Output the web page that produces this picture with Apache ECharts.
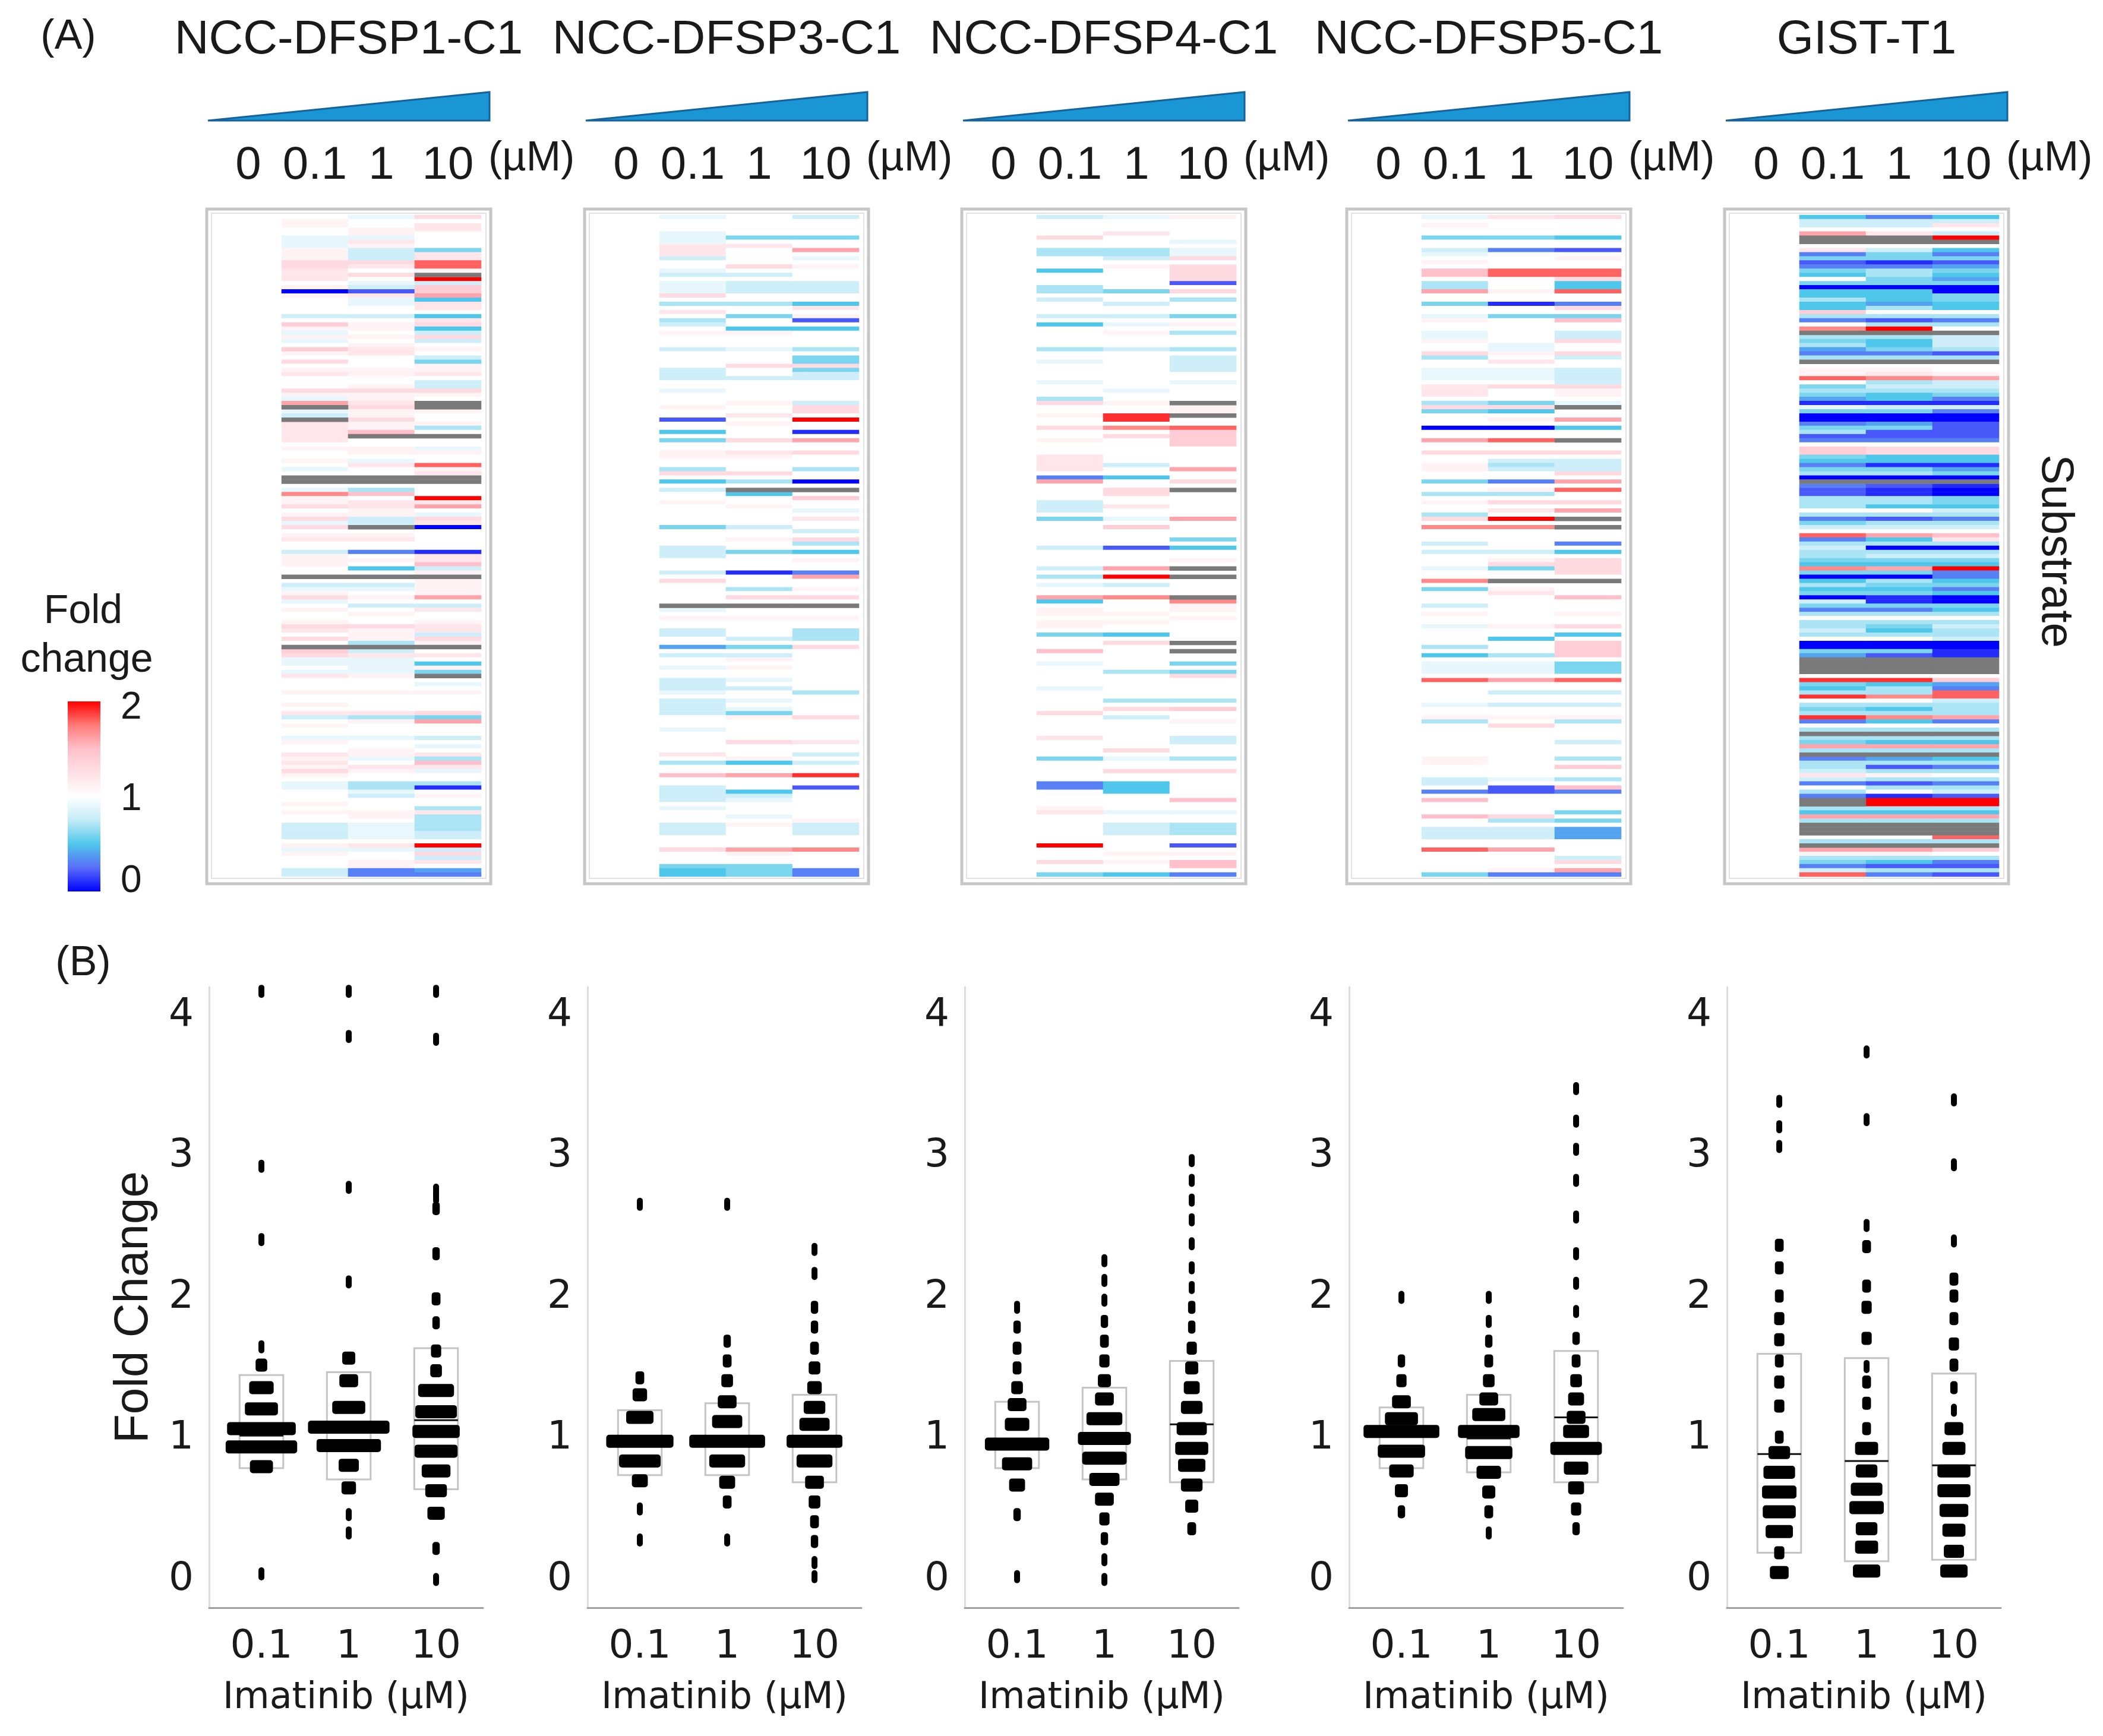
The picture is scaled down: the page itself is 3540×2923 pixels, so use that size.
<!DOCTYPE html>
<html>
<head>
<meta charset="utf-8">
<title>Imatinib fold change</title>
<script src="https://cdn.jsdelivr.net/npm/echarts/dist/echarts.min.js"></script>
<style>
  html, body { margin: 0; padding: 0; background: #fff; }
  #main { width: 3540px; height: 2923px; }
</style>
</head>
<body>
<div id="main"></div>
<script>
var FONT = '"Liberation Sans", Arial, sans-serif';
var FONT_WIDE = '"DejaVu Sans", "Liberation Sans", sans-serif';
var INK = '#1a1a1a';

var panelTitles = ['NCC-DFSP1-C1', 'NCC-DFSP3-C1', 'NCC-DFSP4-C1', 'NCC-DFSP5-C1', 'GIST-T1'];
var heatDoses = ['0', '0.1', '1', '10'];
var boxDoses = ['0.1', '1', '10'];

// fold change per substrate (rows top to bottom), one string per dose 0.1 / 1 / 10 uM
// a = 0.0, b = 0.1 ... k = 1.0 ... u = 2.0 ; '#' = not detected (grey)
var CODE = 'abcdefghijklmnopqrstu';
var N_ROWS = 160;

var heatDFSP1 = [
  'kllkk jjjll lnnmm mklal kkkki koljl jkolk nklmk kknlj q#ji# mmmmm klkkl kjk## kjrll nklnj nklmk killl kk#ki jlnjk lkkln mknk# onjjk jmkkk lkklk miklk kjlkk mlmln lkjjk kklkl kkiii ikljl kkkii',
  'jkkll jmlii inmkn kjicm jjkki kllkl klmmk kkllk klnll mnlln llp#k kllkj mkk## khpkm mllii #klmk kdklk fk#ki jklki klkkn lllh# imjjj jlkkk lkkkk mhlkk kjkkl ljkml kkhhj ikkkl lkjjj jkmjk klldd',
  'nkmmk kkkgm mssl# uiooq fmmkf mnfin iklki gllmk iinlk ##lkk lhk#k kjlkk slm## kkkum qkjnm akkkk kbmmp il#ll llqki mkklm minl# kmkfl g#kjk lkkkk ngqkk kikjk mhpmj kkhbk lkkhm hhhhi ikuin imked'
];
var heatDFSP3 = [
  'jkkkj jjmmm ikkji kjjjn khkmk hiklk kkikk kkiii kkjkk klkkc kkfkg kkllk khnkf kikkl kkkkk gkkkk iiikk kiknk kkkk# jklkk iikke kikkj kkiii jkiii ikkkj kkkkk mkhkk pkkii iikjk kkiii kkknk kkgff',
  'kkkkk gkmkk kknki kiiik khkkg kkflk kkjkk knkki kkkkk lkkmk lkkkn kkmlk kknkh k#fkk lkkkk ikklk kgkkk kbkkk hknk# kklkk kkikg kilkl kkjki kkjkj glkkk kknkk klfkk qkkkf ijkkk jklkk kkkql kkggg',
  'ikkkk gkkqk jklkk kiiik kfmkl ckfkk kkhkg gngii kkkkk innku kkbkq kknkk khkka k#kok kjkmk kiknh kfklk kdqkk lknk# kklkk hhhkn kkkkk kkkkk hkkkk knkkk kkmkk ikikk tkkck kkkkk kliii kkkrk kkkdd'
];
var heatDFSP4 = [
  'ikkkk nkkhh kkkfk kkhhk ikkki kfkkk kkhkk jkkkk jkkkh nkklk knkkl kkkmm mmkdq kkkki iikgk kkkkk ikkkk ikhkj kkqfk llkll kgkkk pkkjk kkkkj kkkkk nkkkk kmkkk kgkkk kkddk kkklm kkkkk kkukk knkkg',
  'jkkkm kkkhh iklkk kkkgk kikki kjklk kkikk kkkkk kkjkk lkktt krknk kkkkk ikkfk knnkk mkkjk okkkk ckkkk qkuki kkrkk klklk kfknk kkkkk hkkkk kkhkn kikkk kkkkn kjkkn kkfff kkkkj kkiii kkkkl klkkf',
  'lkkkk kjkjj nknnn ncknk hkkkg klkhk kkhki iiikk jkkkk #ll#k ksooo okkkk kqkkn k#kkk kkkqk kkkgk fkklk #k#kk kk#rl lklkk kkk#k #kkgk gnkkk kkhko kklkk kiikk khkkn kkkkk kpkkj kkhhh kkckl kppkd'
];
var heatDFSP5 = [
  'jklkk gkkij klkpp khhqk kgkkj lkkjj lkknh kkjjj kmmmk hngkk kakkq kknkk llkkg kkhkl kkhnk rkkki kikkk jkkrk gkkki klkkj kkkkh kfkjj jkskk kkkjk klhkk kkkkk kllkk kiikd kpkkk pkkii ikksk kkkkg',
  'mkkkk gkkdk kkkss kkklk kbkkg kkkkk kjjlk mkjjj knkkk gnfkl kakks kknki hikkd klhkn kmkuk rkkkk kikln gkk#k lmkkk kkkkl kkfkk khkjj jkqkk ikkik klknk kkkkk kkkkk kjkcc kkkkk nhkii ikkqk kkkld',
  'nkkkk fkkck lkkss nffsk kdnkg pkkii nkkni kkiii inllk j#kkq kfkk# kknki iinkq kskkn kqk#k #kkkd kfknn nnk#k kkpkk klkkn kfkoo ookgg gkskk ikkik klhkk kkikk khkok khkpd kkkkg kgkee ekkkk inkqd'
];
var heatGIST = [
  'fiikq ##kmd gcdgf kgaff hffoh dkr#h ghedh #klls kghge bjgaa dghcd koogf dgha# dcchh hkhdg iksdh ihhgf rgafh fgaig dhkhh ihkaa ge### #ktgf htkhg htdkh #hgqh #dhhi midkh d##hf qh### kh#ql hgdis',
  'diikm ##kig gbdhh ggaff fehkh chu#h ffgdh #klmr hihff bigaa egccd knnff bgha# cbbhh fkhch ikqfh ahigf qgahg fgbbg dhkhg fhkaa gc### #ktfh hrkhf hrfkh #hfqh #ehch lhchk buuhf qh### kh#ql hfchd',
  'fimki u#kfd gcegf egaag gffkh dhk#i iihch #kklq iihgd bidaa ccccd knnff bega# baagg fihdh ikpmh ahigf uddfg dfaag fhkhi hhiaa bb### #koed ssihh hqdkh #hfqh #fhdh khdhi cuuhf qh### sh#ok hdchc'
];

// beeswarm bins: [fold change, number of substrates in the bin], per dose 0.1 / 1 / 10 uM
var swarmDFSP1 = [
  [[4.17,1],[2.93,1],[2.41,1],[1.65,1],[1.52,5],[1.36,14],[1.21,20],[1.07,45],[0.94,47],[0.80,13],[0.04,1]],
  [[4.17,1],[3.85,1],[2.78,1],[2.11,1],[1.57,6],[1.41,10],[1.22,20],[1.08,54],[0.95,42],[0.81,11],[0.65,7],[0.46,1],[0.33,1]],
  [[4.17,1],[3.83,1],[2.76,1],[2.71,1],[2.63,2],[2.31,2],[1.99,3],[1.82,2],[1.62,4],[1.48,5],[1.34,22],[1.19,26],[1.05,30],[0.91,27],[0.77,17],[0.63,12],[0.47,9],[0.22,2],[0.00,1]]
];
var swarmDFSP3 = [
  [[2.66,1],[1.43,3],[1.31,7],[1.15,16],[0.98,44],[0.84,26],[0.70,8],[0.50,1],[0.28,1]],
  [[2.66,1],[1.69,2],[1.55,3],[1.41,5],[1.26,10],[1.12,18],[0.98,50],[0.84,22],[0.69,8],[0.55,3],[0.28,1]],
  [[2.34,1],[2.17,1],[1.93,2],[1.79,2],[1.64,3],[1.50,5],[1.36,7],[1.22,12],[1.10,18],[0.98,36],[0.84,22],[0.69,10],[0.55,5],[0.41,3],[0.27,2],[0.12,1],[0.02,1]]
];
var swarmDFSP4 = [
  [[1.93,1],[1.79,2],[1.64,3],[1.50,3],[1.36,5],[1.24,10],[1.10,14],[0.96,42],[0.82,18],[0.67,8],[0.46,2],[0.02,1]],
  [[2.26,1],[2.12,1],[1.98,1],[1.83,2],[1.69,3],[1.55,4],[1.41,6],[1.28,10],[1.14,22],[1.00,34],[0.86,28],[0.71,18],[0.57,10],[0.43,4],[0.29,2],[0.14,1],[0.00,1]],
  [[2.97,1],[2.83,1],[2.69,1],[2.55,1],[2.38,1],[2.21,1],[2.07,1],[1.93,2],[1.79,2],[1.64,4],[1.50,6],[1.36,8],[1.22,12],[1.07,18],[0.93,20],[0.81,16],[0.67,12],[0.52,6],[0.36,3]]
];
var swarmDFSP5 = [
  [[2.00,1],[1.55,2],[1.41,4],[1.26,10],[1.14,20],[1.05,50],[0.91,30],[0.77,14],[0.63,6],[0.48,2]],
  [[2.00,1],[1.83,1],[1.69,2],[1.55,3],[1.41,5],[1.28,10],[1.17,20],[1.05,40],[0.90,30],[0.76,14],[0.62,6],[0.48,3],[0.33,1]],
  [[3.48,1],[3.25,1],[3.05,1],[2.83,1],[2.57,1],[2.31,1],[2.10,1],[1.90,1],[1.71,2],[1.55,3],[1.41,5],[1.28,8],[1.15,10],[1.05,15],[0.93,33],[0.79,14],[0.65,8],[0.50,4],[0.36,2]]
];
var swarmGIST = [
  [[3.39,1],[3.21,1],[3.07,1],[2.37,3],[2.21,3],[2.01,3],[1.85,4],[1.70,4],[1.55,3],[1.40,4],[1.23,4],[1.01,3],[0.90,12],[0.76,19],[0.62,21],[0.48,20],[0.34,16],[0.19,4],[0.05,10]],
  [[3.74,1],[3.26,1],[2.51,1],[2.36,3],[2.08,3],[1.93,4],[1.71,4],[1.51,1],[1.40,3],[1.25,3],[1.07,3],[0.93,13],[0.77,12],[0.64,19],[0.51,21],[0.36,12],[0.23,13],[0.06,16]],
  [[3.40,1],[2.94,1],[2.40,1],[2.13,3],[2.01,3],[1.85,3],[1.67,4],[1.52,3],[1.36,2],[1.20,1],[1.07,10],[0.93,13],[0.77,20],[0.63,20],[0.49,17],[0.35,13],[0.20,11],[0.06,16]]
];

// box: [Q1, median, Q3] per dose
var boxDFSP1 = [[0.79,1.02,1.45],[0.71,1.05,1.47],[0.64,1.13,1.64]];
var boxDFSP3 = [[0.74,0.95,1.20],[0.74,0.97,1.25],[0.69,0.98,1.31]];
var boxDFSP4 = [[0.79,0.97,1.26],[0.71,1.00,1.36],[0.69,1.10,1.55]];
var boxDFSP5 = [[0.79,1.03,1.22],[0.76,1.00,1.31],[0.69,1.15,1.62]];
var boxGIST  = [[0.19,0.89,1.60],[0.13,0.84,1.57],[0.14,0.81,1.46]];

var heatPanels = [heatDFSP1, heatDFSP3, heatDFSP4, heatDFSP5, heatGIST];
var swarmPanels = [swarmDFSP1, swarmDFSP3, swarmDFSP4, swarmDFSP5, swarmGIST];
var boxPanels = [boxDFSP1, boxDFSP3, boxDFSP4, boxDFSP5, boxGIST];

var FOLD_COLORS = ['#0000ff', '#5a6ef8', '#4ec7ea', '#c2ebf7', '#ffffff', '#ffe0e6', '#ffc0cb', '#ff7b78', '#ff0000'];

// layout
var frameLeft = [348, 984, 1619, 2267, 2903];
var FRAME_W = 478, FRAME_TOP = 352, FRAME_H = 1136;
var HEAT_TOP = 362, HEAT_W = 448, HEAT_H = 1114;
var boxLeft = [352, 989, 1624, 2271, 2907];
var BOX_TOP = 1662, BOX_W = 461, BOX_H = 1045;
var X_MIN = -0.599, X_MAX = 2.537;   // dose slots sit 88px and then 147px apart
var DOT_W = 10, DOT_H = 22, DOT_PITCH = 2.4;

function decode(s) {
  return s.replace(/\s+/g, '').split('');
}
function isWhole(v) {
  return Math.abs(v - Math.round(v)) < 1e-6;
}

var rowNames = [];
for (var r = 0; r < N_ROWS; r++) rowNames.push('S' + (r + 1));

var grids = [], xAxes = [], yAxes = [], series = [], heatSeriesIdx = [];

heatPanels.forEach(function (cols, i) {
  grids.push({ left: frameLeft[i] + 14, top: HEAT_TOP, width: HEAT_W, height: HEAT_H, outerBoundsMode: 'none' });
  xAxes.push({
    type: 'category', gridIndex: i, position: 'top', data: heatDoses,
    axisLine: { show: false }, axisTick: { show: false }, splitLine: { show: false },
    axisLabel: { interval: 0, hideOverlap: false, fontSize: 78, margin: 44, color: INK, fontFamily: FONT }
  });
  yAxes.push({ type: 'category', gridIndex: i, data: rowNames, inverse: true, show: false });

  var cells = [], missing = [];
  for (var r = 0; r < N_ROWS; r++) cells.push([0, r, 1]);
  cols.forEach(function (s, c) {
    decode(s).forEach(function (ch, r) {
      if (r >= N_ROWS) return;
      if (ch === '#') missing.push([c + 1, r, 1]);
      else cells.push([c + 1, r, CODE.indexOf(ch) / 10]);
    });
  });
  heatSeriesIdx.push(series.length);
  series.push({
    type: 'heatmap', xAxisIndex: i, yAxisIndex: i, data: cells,
    silent: true, emphasis: { disabled: true }, progressive: 0
  });
  series.push({
    type: 'heatmap', xAxisIndex: i, yAxisIndex: i, data: missing,
    itemStyle: { color: '#7a7a7a' }, silent: true, emphasis: { disabled: true }, progressive: 0
  });
});

swarmPanels.forEach(function (doses, i) {
  var g = 5 + i;
  grids.push({ left: boxLeft[i], top: BOX_TOP, width: BOX_W, height: BOX_H, outerBoundsMode: 'none' });
  xAxes.push({
    type: 'value', gridIndex: g, min: X_MIN, max: X_MAX, splitNumber: 3,
    axisLine: { show: true, onZero: false, lineStyle: { color: '#a0a0a0', width: 3 } },
    axisTick: { show: false }, splitLine: { show: false },
    axisLabel: {
      fontSize: 66, margin: 34, color: INK, fontFamily: FONT_WIDE,
      formatter: function (v) { return isWhole(v) && boxDoses[Math.round(v)] ? boxDoses[Math.round(v)] : ''; }
    },
    name: 'Imatinib (µM)', nameLocation: 'middle', nameGap: 122,
    nameTextStyle: { fontSize: 62, color: INK, fontFamily: FONT_WIDE }
  });
  yAxes.push({
    type: 'value', gridIndex: g, min: -0.2, max: 4.2, splitNumber: 4,
    axisLine: { show: true, onZero: false, lineStyle: { color: '#dcdcdc', width: 3 } },
    axisTick: { show: false }, splitLine: { show: false },
    axisLabel: {
      fontSize: 66, margin: 26, color: INK, fontFamily: FONT_WIDE,
      formatter: function (v) { return isWhole(v) ? String(Math.round(v)) : ''; }
    }
  });

  series.push({
    type: 'custom', xAxisIndex: g, yAxisIndex: g, silent: true, z: 2,
    data: boxPanels[i].map(function (b, k) { return [k, b[0], b[1], b[2]]; }),
    encode: { x: 0, y: [1, 2, 3] },
    renderItem: function (params, api) {
      var x = api.value(0);
      var lo = api.coord([x, api.value(1)]);
      var md = api.coord([x, api.value(2)]);
      var hi = api.coord([x, api.value(3)]);
      var half = api.size([1, 0])[0] * 0.25;
      return {
        type: 'group', children: [
          { type: 'rect', shape: { x: lo[0] - half, y: hi[1], width: half * 2, height: lo[1] - hi[1] },
            style: { fill: 'none', stroke: '#c4c4c4', lineWidth: 3 } },
          { type: 'line', shape: { x1: md[0] - half, y1: md[1], x2: md[0] + half, y2: md[1] },
            style: { stroke: '#111', lineWidth: 3 } }
        ]
      };
    }
  });

  var pts = [];
  doses.forEach(function (bins, k) {
    bins.forEach(function (b) { pts.push([k, b[0], b[1]]); });
  });
  series.push({
    type: 'custom', xAxisIndex: g, yAxisIndex: g, silent: true, z: 3,
    data: pts, encode: { x: 0, y: 1 },
    renderItem: function (params, api) {
      var c = api.coord([api.value(0), api.value(1)]);
      var n = api.value(2);
      var w = DOT_W + (n - 1) * DOT_PITCH;
      return {
        type: 'rect',
        shape: { x: c[0] - w / 2, y: c[1] - DOT_H / 2, width: w, height: DOT_H, r: DOT_W / 2 },
        style: { fill: '#000' }
      };
    }
  });
});

function txt(s, x, y, size, opt) {
  opt = opt || {};
  return {
    type: 'text', x: x, y: y, rotation: opt.rotation || 0, z: 10,
    style: {
      text: s, fontSize: size, fontFamily: opt.font || FONT, fill: INK,
      textAlign: opt.align || 'center', align: opt.align || 'center',
      textVerticalAlign: 'middle', verticalAlign: 'middle'
    }
  };
}

var graphics = [];
graphics.push(txt('(A)', 115, 63, 70));
graphics.push(txt('(B)', 140, 1623, 70));
panelTitles.forEach(function (t, i) {
  var L = frameLeft[i];
  graphics.push(txt(t, L + FRAME_W / 2, 68, 80));
  graphics.push({
    type: 'polygon', z: 10,
    shape: { points: [[L + 2, 203], [L + FRAME_W - 2, 203], [L + FRAME_W - 2, 155]] },
    style: { fill: '#1b96d4', stroke: '#14639c', lineWidth: 3 }
  });
  graphics.push(txt('(µM)', L + 14 + HEAT_W + 12, 268, 70, { align: 'left' }));
  graphics.push({
    type: 'rect', z: 1,
    shape: { x: L, y: FRAME_TOP, width: FRAME_W, height: FRAME_H },
    style: { fill: 'none', stroke: '#c6c6c6', lineWidth: 5 }
  });
  graphics.push({
    type: 'rect', z: 1,
    shape: { x: L + 8, y: FRAME_TOP + 7, width: FRAME_W - 16, height: FRAME_H - 16 },
    style: { fill: 'none', stroke: '#e2e2e2', lineWidth: 2 }
  });
});
graphics.push(txt('Substrate', 3459, 928, 76, { rotation: -Math.PI / 2 }));
graphics.push(txt('Fold Change', 226, 2201, 80, { rotation: Math.PI / 2 }));

// colour key
graphics.push(txt('Fold', 140, 1030, 68));
graphics.push(txt('change', 146, 1112, 68));
graphics.push({
  type: 'rect', z: 10,
  shape: { x: 114, y: 1181, width: 55, height: 320 },
  style: {
    fill: new echarts.graphic.LinearGradient(0, 0, 0, 1,
      FOLD_COLORS.slice().reverse().map(function (c, k, a) { return { offset: k / (a.length - 1), color: c }; }))
  }
});
graphics.push(txt('2', 203, 1192, 64, { align: 'left' }));
graphics.push(txt('1', 203, 1346, 64, { align: 'left' }));
graphics.push(txt('0', 203, 1484, 64, { align: 'left' }));

var myChart = echarts.init(document.getElementById('main'));
myChart.setOption({
  animation: false,
  backgroundColor: '#fff',
  grid: grids,
  xAxis: xAxes,
  yAxis: yAxes,
  visualMap: {
    type: 'continuous', show: false, min: 0, max: 2, dimension: 2,
    seriesIndex: heatSeriesIdx,
    inRange: { color: FOLD_COLORS }
  },
  graphic: graphics,
  series: series
});
</script>
</body>
</html>
